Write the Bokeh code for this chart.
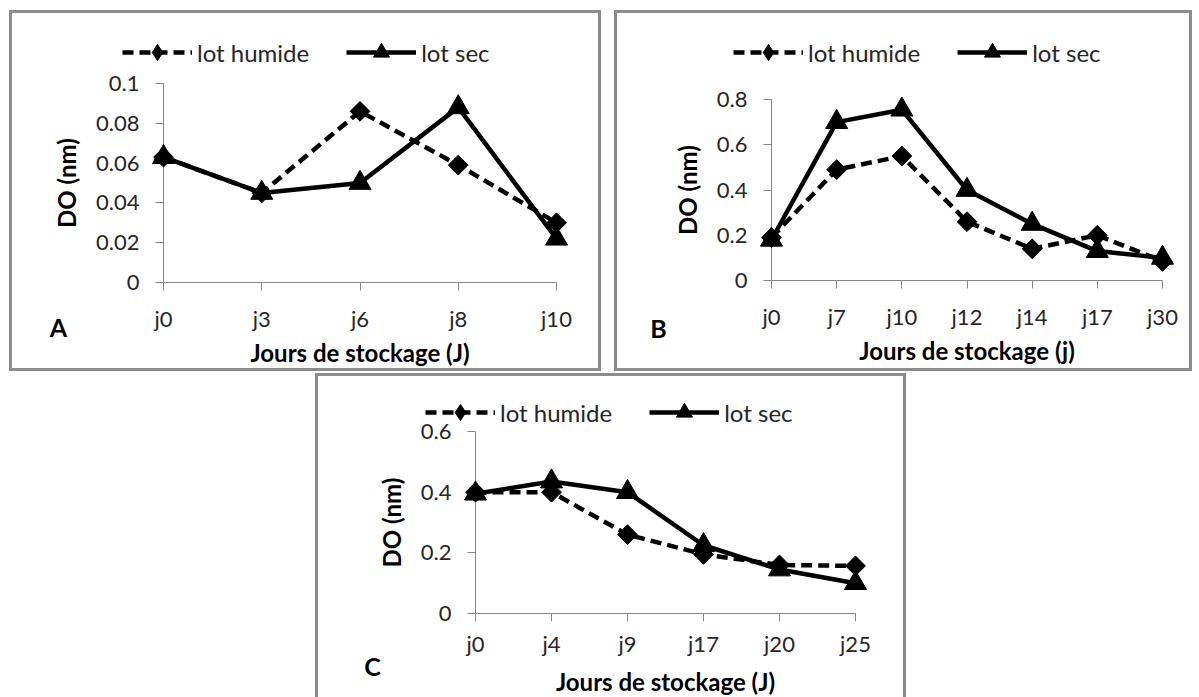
import math
from bokeh.plotting import figure
from bokeh.models import (FixedTicker, Legend, LegendItem, Label, Range1d, Spacer,
                          GlobalInlineStyleSheet)
from bokeh.layouts import row, column
from bokeh.embed import file_html
from bokeh.resources import INLINE

# ---------------- data ----------------
a_cats = ["j0", "j3", "j6", "j8", "j10"]
a_humide = [0.063, 0.045, 0.086, 0.059, 0.030]
a_sec = [0.063, 0.045, 0.050, 0.088, 0.022]
a_yticks = [0, 0.02, 0.04, 0.06, 0.08, 0.1]
a_ylabels = ["0", "0.02", "0.04", "0.06", "0.08", "0.1"]

b_cats = ["j0", "j7", "j10", "j12", "j14", "j17", "j30"]
b_humide = [0.19, 0.49, 0.55, 0.26, 0.14, 0.20, 0.085]
b_sec = [0.18, 0.70, 0.755, 0.40, 0.25, 0.13, 0.10]
b_yticks = [0, 0.2, 0.4, 0.6, 0.8]
b_ylabels = ["0", "0.2", "0.4", "0.6", "0.8"]

c_cats = ["j0", "j4", "j9", "j17", "j20", "j25"]
c_humide = [0.40, 0.40, 0.26, 0.195, 0.16, 0.157]
c_sec = [0.395, 0.435, 0.40, 0.225, 0.145, 0.10]
c_yticks = [0, 0.2, 0.4, 0.6]
c_ylabels = ["0", "0.2", "0.4", "0.6"]

series_names = ["lot humide", "lot sec"]

FONT = "Lato"
AXIS_GRAY = "#868686"
TEXT = "#262626"
BORDER = "#8c8c8c"
LEG_GLYPH_H = 40


def panel(cats, hum, sec, yticks, ylabels, box, data_px, legend_pos, letter,
          letter_pos, xtitle, xl_stand, xt_stand, yl_stand, yt_stand, shadow):
    """box = (left, top, w, h) in page px; data_px = (x_first, x_last, y_zero, y_top)."""
    bl, bt, w, h = box
    px0, px1, py0, py1 = data_px
    n = len(cats)
    xs = list(range(n))
    ymax = yticks[-1]
    # layout: the frame fills the whole box; data area placed by the ranges
    dpx = (n - 1) / (px1 - px0)
    x_start = -(px0 - bl) * dpx
    x_end = (n - 1) + (bl + w - px1) * dpx
    dpy = ymax / (py0 - py1)
    y_start = -(bt + h - py0) * dpy
    y_end = ymax + (py1 - bt) * dpy

    p = figure(width=w, height=h, x_range=Range1d(x_start, x_end),
               y_range=Range1d(y_start, y_end), output_backend="svg",
               toolbar_location=None, min_border=0)
    p.border_fill_color = None
    p.background_fill_color = None
    p.outline_line_color = None
    p.grid.visible = False
    p.styles = {"box-shadow": shadow}

    xa = p.xaxis[0]
    xa.ticker = FixedTicker(ticks=xs)
    xa.major_label_overrides = {i: c for i, c in zip(xs, cats)}
    xa.fixed_location = 0
    xa.bounds = (0, n - 1)
    ya = p.yaxis[0]
    ya.ticker = FixedTicker(ticks=yticks)
    ya.major_label_overrides = {t: s for t, s in zip(yticks, ylabels)}
    ya.fixed_location = 0
    ya.bounds = (0, ymax)
    for ax in (xa, ya):
        ax.axis_line_color = AXIS_GRAY
        ax.axis_line_width = 1
        ax.major_tick_line_color = AXIS_GRAY
        ax.major_tick_out = 8
        ax.major_tick_in = 0
        ax.minor_tick_line_color = None
        ax.major_label_text_font = FONT
        ax.major_label_text_font_size = "22px"
        ax.major_label_text_color = TEXT
        ax.axis_label_text_font = FONT
        ax.axis_label_text_font_size = "24px"
        ax.axis_label_text_font_style = "bold"
        ax.axis_label_text_color = "#000000"
    xa.axis_label = xtitle
    xa.major_label_standoff = xl_stand
    xa.axis_label_standoff = xt_stand
    ya.axis_label = "DO (nm)"
    ya.major_label_standoff = yl_stand
    ya.axis_label_standoff = yt_stand

    lh = p.line(xs, hum, line_color="black", line_width=4.5, line_dash="11 6",
                level="overlay")
    # diamond key (used by the legend, whose glyphs are never rotated);
    # it lies fully under the rotated-square markers drawn next
    key_h = p.scatter(xs, hum, marker="diamond", size=14, fill_color="black",
                      line_color="black", level="overlay")
    p.scatter(xs, hum, marker="square", angle=math.pi / 4, size=14,
              fill_color="black", line_color="black", level="overlay")
    ls = p.line(xs, sec, line_color="black", line_width=4.5, level="overlay")
    ss = p.scatter(xs, sec, marker="triangle", size=22, fill_color="black",
                   line_color="black", level="overlay")

    lg_left, lg_center = legend_pos
    legend = Legend(items=[LegendItem(label=series_names[0], renderers=[lh, key_h]),
                           LegendItem(label=series_names[1], renderers=[ls, ss])],
                    location=(lg_left - bl, bt + h - (lg_center + LEG_GLYPH_H / 2)),
                    orientation="horizontal",
                    glyph_width=70, glyph_height=LEG_GLYPH_H, label_standoff=5,
                    spacing=37, padding=0, margin=0,
                    border_line_color=None, background_fill_alpha=0,
                    label_text_font=FONT, label_text_font_size="24px",
                    label_text_color=TEXT)
    p.add_layout(legend)

    p.add_layout(Label(x=letter_pos[0] - bl, y=bt + h - letter_pos[1],
                       x_units="screen", y_units="screen", text=letter,
                       text_font=FONT, text_font_size="25px",
                       text_font_style="bold", text_align="center",
                       text_baseline="middle", text_color="black"))
    return p


full = "inset 0 0 0 3px " + BORDER
three = ("inset 3px 0 0 0 {c}, inset -3px 0 0 0 {c}, inset 0 3px 0 0 {c}"
         .format(c=BORDER))

A_BOX = (9, 10, 592, 361)
B_BOX = (614, 10, 578, 361)
C_BOX = (315, 373, 591, 324)

pA = panel(a_cats, a_humide, a_sec, a_yticks, a_ylabels, A_BOX,
           (163, 556, 282, 83), (122, 52), "A", (58, 326),
           "Jours de stockage (J)", 14, 3, 16, 12, full)
pB = panel(b_cats, b_humide, b_sec, b_yticks, b_ylabels, B_BOX,
           (771, 1162, 280, 99), (733, 52), "B", (658, 327),
           "Jours de stockage (j)", 14, 3, 16, 12, full)
pC = panel(c_cats, c_humide, c_sec, c_yticks, c_ylabels, C_BOX,
           (475, 855, 613, 431), (425, 412), "C", (372, 665),
           "Jours de stockage (J)", 8, 7, 16, 12, three)

layout = column(Spacer(height=A_BOX[1]),
                row(Spacer(width=A_BOX[0]), pA,
                    Spacer(width=B_BOX[0] - A_BOX[0] - A_BOX[2]), pB),
                Spacer(height=C_BOX[1] - A_BOX[1] - A_BOX[3]),
                row(Spacer(width=C_BOX[0]), pC))
layout.stylesheets = [GlobalInlineStyleSheet(css="html, body { overflow: hidden; }")]

open("out.html", "w").write(file_html(layout, INLINE))
